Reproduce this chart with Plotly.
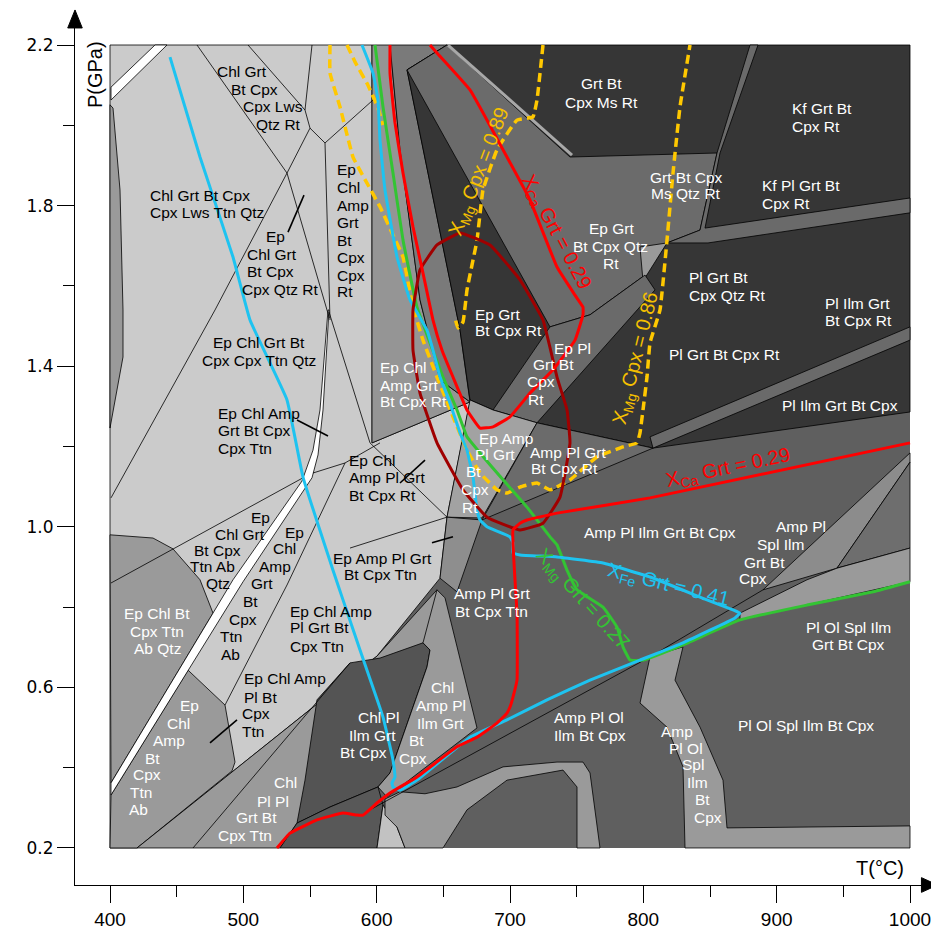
import plotly.graph_objects as go

# ---------------- axis data ----------------
T_TICKS = [400, 500, 600, 700, 800, 900, 1000]
T_MINOR = [450, 550, 650, 750, 850, 950]
P_TICKS = [0.2, 0.6, 1.0, 1.4, 1.8, 2.2]
P_MINOR = [0.4, 0.8, 1.2, 1.6, 2.0]
T_RANGE = [373.75, 1015.0]
P_RANGE = [0.1078, 2.2623]

# ---------------- field polygons (T degC, P GPa) ----------------
BOX = [(400, 0.2), (1000, 0.2), (1000, 2.2), (400, 2.2)]
LIGHT = [(400, 2.2), (596.5, 2.2), (596.5, 1.209), (670, 1.311), (652.75, 1.024), (647.5, 0.872),
         (600.25, 0.678), (420.25, 0.2), (400, 0.2)]
LEFT_STRIP = [(400, 2.051), (402.25, 2.043), (407.5, 1.839), (409.75, 1.540), (409.75, 1.423), (400, 1.246)]
EP_CHL_BT_AB = [(400, 0.980), (432.25, 0.972), (447.25, 0.945), (467.5, 0.868), (477.25, 0.785), (400.75, 0.362)]
EP_CHL_AMP_AB = [(400.75, 0.332), (458.5, 0.643), (486.25, 0.556), (493.75, 0.414), (491.5, 0.392),
                 (420.25, 0.2), (400, 0.2)]
CHL_PL_TTN = [(420.25, 0.2), (600.25, 0.678), (645.25, 0.843), (651.25, 0.818), (640, 0.693), (610, 0.387),
              (565, 0.302), (540.25, 0.262), (527.5, 0.2)]
CHL_PL_ILM = [(580, 0.661), (602.5, 0.673), (634.75, 0.711), (640, 0.693), (637.75, 0.651), (610, 0.387),
              (601, 0.352), (565, 0.302), (540.25, 0.262), (546.25, 0.369), (555.25, 0.569)]
CHL_AMP_PL_ILM = [(634.75, 0.711), (645.25, 0.843), (651.25, 0.823), (675.25, 0.499), (607.75, 0.327),
                  (601, 0.352), (610, 0.387), (637.75, 0.651), (640, 0.693)]
BOTTOM_DARK = [(527.5, 0.2), (540.25, 0.262), (565, 0.302), (601, 0.352), (604.75, 0.307), (600.25, 0.2)]
BOTTOM_LIGHT = [(604.75, 0.307), (615.25, 0.252), (621.25, 0.2), (600.25, 0.2)]
ARCH = [(606.25, 0.322), (617.5, 0.340), (636.25, 0.335), (660.25, 0.352), (694.75, 0.402), (735.25, 0.414),
        (754.75, 0.414), (760, 0.387), (767.5, 0.2), (750.25, 0.2), (750.25, 0.352), (739.75, 0.394),
        (697.75, 0.369), (667.75, 0.295), (649.75, 0.2), (621.25, 0.2), (615.25, 0.252), (606.25, 0.282)]
EP_CHL_AMP_RT = [(596.5, 2.2), (610, 2.2), (617.5, 1.939), (632.5, 1.565), (647.5, 1.366), (670, 1.311),
                 (596.5, 1.209)]
EP_CHL_AMP_RT2 = [(610, 2.2), (652.75, 2.2), (622.75, 2.138), (662.5, 1.490), (670, 1.311), (647.5, 1.366),
                  (632.5, 1.565), (617.5, 1.939)]
DARK_TOP = [(622.75, 2.138), (652.75, 2.2), (1000, 2.2), (1000, 1.286), (807.25, 1.196), (720.25, 1.259),
            (687.25, 1.291), (670, 1.316), (662.5, 1.490)]
EP_GRT_QTZ = [(622.75, 2.138), (652.75, 2.2), (745, 1.921), (855.25, 1.931), (842.5, 1.739), (817.75, 1.707),
              (801.25, 1.627), (760, 1.528), (730, 1.498)]
KF_STRIP = [(880, 2.2), (886, 2.2), (857.5, 1.931), (846.25, 1.744), (1000, 1.819), (1000, 1.782),
            (848.5, 1.707), (817.75, 1.707), (842.5, 1.739), (855.25, 1.931)]
SMALL_WEDGE = [(797.5, 1.697), (817.75, 1.707), (799.75, 1.612)]
EP_PL_STRIP = [(687.25, 1.291), (730, 1.498), (760, 1.528), (801.25, 1.627), (808.75, 1.590), (720.25, 1.259)]
PL_STRIP = [(805, 1.224), (1000, 1.498), (1000, 1.465), (807.25, 1.196)]
EP_AMP_PL_RT = [(670, 1.316), (687.25, 1.291), (720.25, 1.259), (679, 1.022), (652.75, 1.024)]
AMP_PL_RT = [(720.25, 1.259), (807.25, 1.196), (679, 1.017)]
SLIVER = [(652.75, 1.024), (679, 1.017), (660.25, 0.838), (647.5, 0.872)]
SPL_WEDGE = [(889.75, 0.843), (1000, 1.184), (1000, 1.161), (945.25, 0.897)]
SPL_WEDGE2 = [(945.25, 0.897), (1000, 1.161), (1000, 0.947)]
OL_BAND = [(872.5, 0.785), (922.75, 0.868), (945.25, 0.897), (1000, 0.947), (1000, 0.863), (872.5, 0.768)]
AMP_OL_STRIP = [(805, 0.676), (829.75, 0.701), (823.75, 0.618), (842.5, 0.501), (859.75, 0.369),
                (862.75, 0.250), (1000, 0.255), (1000, 0.2), (831.25, 0.2), (829.75, 0.402),
                (817.75, 0.501), (797.5, 0.561)]
WHITE_TOP = [(400.75, 2.095), (433.75, 2.2), (442.75, 2.2), (400.75, 2.063)]
WHITE_LOW = [(400.75, 0.362), (492.25, 0.868), (544, 1.114), (547, 1.141), (552.25, 1.191), (557.5, 1.291),
             (563.5, 1.540), (564.25, 1.540), (559.75, 1.291), (556, 1.179), (551.5, 1.122),
             (499.75, 0.863), (400.75, 0.332)]

# ---------------- extra boundary lines ----------------
LINE_A = [(465.25, 2.2), (532.75, 1.881), (564.5, 1.52)]
LINE_B = [(503.5, 2.2), (546.25, 2.038)]
LINE_C = [(551.5, 2.2), (546.25, 2.038), (550, 1.993)]
LINE_D = [(550, 1.993), (561.25, 1.956), (597.25, 2.063)]
LINE_E = [(561.25, 1.956), (565, 1.515)]
LINE_F = [(550, 1.993), (532.75, 1.881), (478.75, 1.540), (400.75, 1.072)]
LINE_H = [(564.25, 1.535), (595, 1.209)]
LINE_I = [(552.25, 1.134), (576.25, 1.159), (602.5, 1.209)]
LINE_J = [(400.75, 0.860), (447.25, 0.945), (544.75, 1.122)]
LINE_K = [(576.25, 1.159), (532.75, 0.855), (486.25, 0.556)]
LINE_N = [(595, 1.209), (652.75, 1.024)]
LINE_N2 = [(652.75, 1.024), (580, 0.947)]
LINE_2 = [(462.25, 0.2), (580, 0.661)]
LINE_X = [(595, 0.295), (805, 0.676)]
LINE_Y = [(805, 0.676), (889.75, 0.843)]
LEADERS = [
    [(533.5, 1.734), (545.5, 1.826)],
    [(540.25, 1.266), (563.5, 1.226)],
    [(475, 0.462), (495.25, 0.519)],
    [(617.5, 1.109), (636.25, 1.166)],
    [(641.5, 0.960), (657.25, 0.975)],
]
SLIVER_LINE = [(653.5, 2.2), (746.5, 1.926)]

# ---------------- isopleths ----------------
XCA_A = [(525.25, 0.2), (535, 0.237), (555.25, 0.270), (574.75, 0.287), (585.25, 0.282), (589.75, 0.282),
         (600.25, 0.312), (610, 0.337), (630.25, 0.377), (660.25, 0.452), (675.25, 0.476), (690.25, 0.511),
         (697.75, 0.536), (700, 0.551), (702.25, 0.576), (705.25, 0.618), (705.25, 0.785), (703.75, 0.868),
         (702.25, 0.992), (707.5, 1.009), (712.75, 1.017), (735.25, 1.034), (805, 1.072), (1000, 1.209)]
XCA_B = [(610, 2.2), (610, 2.130), (613.75, 2.006), (619.75, 1.881), (627.25, 1.747), (634.75, 1.632),
         (642.25, 1.515), (649, 1.440), (657.25, 1.373), (667.75, 1.291), (677.5, 1.246), (687.25, 1.249),
         (700, 1.274), (715, 1.333), (732.25, 1.391), (748.75, 1.465), (754.75, 1.528), (754.75, 1.547),
         (748.75, 1.577), (735.25, 1.647), (715, 1.814), (694.75, 1.939), (670, 2.088), (645.25, 2.180),
         (640, 2.2)]
ELLIPSE = [(662.5, 1.732), (685, 1.702), (707.5, 1.615), (724.75, 1.515), (735.25, 1.373), (742.75, 1.291),
           (745, 1.209), (737.5, 1.074), (724.75, 1.009), (707.5, 0.992), (682.75, 1.024), (664.75, 1.092),
           (645.25, 1.209), (632.5, 1.333), (627.25, 1.440), (627.25, 1.540), (632.5, 1.640),
           (645.25, 1.702), (662.5, 1.732)]
XMG_CPX_089 = [(724.75, 2.2), (720.25, 2.063), (717.25, 2.021), (705.25, 2.013), (690.25, 1.939),
               (679.75, 1.839), (675.25, 1.714), (667.75, 1.590), (664.75, 1.510), (661, 1.495),
               (658.75, 1.520)]
XMG_CPX_086 = [(565, 2.2), (565, 2.130), (572.5, 2.046), (582.25, 1.921), (592.75, 1.856), (602.5, 1.797),
               (612.25, 1.727), (619.75, 1.672), (627.25, 1.547), (634.75, 1.465), (645.25, 1.373),
               (657.25, 1.274), (667.75, 1.191), (677.5, 1.134), (690.25, 1.092), (697.75, 1.084),
               (707.5, 1.099), (720.25, 1.109), (730, 1.092), (745, 1.117), (765.25, 1.174), (784.75, 1.199),
               (795.25, 1.209), (797.5, 1.234), (799.75, 1.291), (802.75, 1.373), (805, 1.458),
               (812.5, 1.540), (817.75, 1.714), (822.25, 1.881), (827.5, 2.046), (835, 2.2)]
XMG_CPX_B = [(577.75, 2.2), (583.75, 2.158), (593.5, 2.100), (601, 2.043), (604.75, 2.001)]
XFE_GRT = [(589, 2.2), (597.25, 2.130), (601, 2.063), (602.5, 1.963), (606.25, 1.839), (615.25, 1.672),
           (625, 1.565), (637.75, 1.490), (642.25, 1.440), (647.5, 1.373), (655, 1.308), (662.5, 1.234),
           (667.75, 1.191), (672.25, 1.124), (675.25, 1.042), (677.5, 1.017), (682.75, 1.000), (700, 0.975),
           (702.25, 0.960), (702.25, 0.935), (707.5, 0.930), (735.25, 0.925), (769.75, 0.910), (805, 0.875),
           (847.75, 0.818), (867.25, 0.793), (872.5, 0.785), (868.75, 0.773), (829.75, 0.711),
           (797.5, 0.668), (760, 0.618), (727.75, 0.569), (697.75, 0.519), (670, 0.476), (630.25, 0.369),
           (617.5, 0.344), (612.25, 0.352), (611.5, 0.362), (613.75, 0.377), (612.25, 0.419),
           (604.75, 0.526), (587.5, 0.693), (574.75, 0.818), (567.25, 0.892), (544.75, 1.124),
           (532.75, 1.316), (505, 1.515), (492.25, 1.672), (467.5, 1.921), (445, 2.170)]
XMG_GRT = [(598.75, 2.2), (604.75, 2.046), (612.25, 1.881), (619.75, 1.714), (630.25, 1.547), (640, 1.458),
           (649.75, 1.373), (660.25, 1.291), (667.75, 1.224), (677.5, 1.184), (694.75, 1.117),
           (712.75, 1.049), (730, 0.975), (735.25, 0.955), (742.75, 0.892), (750.25, 0.843),
           (769.75, 0.800), (780.25, 0.750), (784.75, 0.701), (790, 0.668), (799.75, 0.668),
           (829.75, 0.706), (872.5, 0.768), (922.75, 0.805), (972.25, 0.838), (1000, 0.863)]

# ---------------- field labels (T, P, text) ----------------
BLACK_CENTER = [
    (499, 2.133, "Chl Grt"), (508, 2.090, "Bt Cpx"), (522.3, 2.046, "Cpx Lws"), (526, 2.003, "Qtz Rt"),
    (523.8, 1.722, "Ep"), (521.5, 1.679, "Chl Grt"), (520, 1.635, "Bt Cpx"), (527.5, 1.592, "Cpx Qtz Rt"),
    (511.75, 1.460, "Ep Chl Grt Bt"), (511.75, 1.415, "Cpx Cpx Ttn Qtz"),
    (512.5, 1.024, "Ep"), (497.5, 0.982, "Chl Grt"), (480.25, 0.940, "Bt Cpx"), (476.5, 0.900, "Ttn Ab"),
    (481, 0.858, "Qtz"),
    (538, 0.987, "Ep"), (530.5, 0.945, "Chl"), (523.75, 0.900, "Amp"), (514, 0.858, "Grt"),
    (505, 0.813, "Bt"), (499.75, 0.770, "Cpx"), (490.75, 0.726, "Ttn"), (490, 0.683, "Ab"),
    (604, 0.922, "Ep Amp Pl Grt"), (603, 0.880, "Bt Cpx Ttn"),
]
BLACK_LEFT = [
    (428.5, 1.826, "Chl Grt Bt Cpx"), (428.5, 1.782, "Cpx Lws Ttn Qtz"),
    (568.75, 1.889, "Ep"), (568.75, 1.846, "Chl"), (568.75, 1.801, "Amp"), (568.75, 1.759, "Grt"),
    (568.75, 1.714, "Bt"), (568.75, 1.672, "Cpx"), (568.75, 1.627, "Cpx"), (568.75, 1.585, "Rt"),
    (479.5, 1.281, "Ep Chl Amp"), (479.5, 1.239, "Grt Bt Cpx"), (479.5, 1.196, "Cpx Ttn"),
    (533.5, 0.790, "Ep Chl Amp"), (533.5, 0.748, "Pl Grt Bt"), (533.5, 0.703, "Cpx Ttn"),
    (499, 0.621, "Ep Chl Amp"), (499, 0.576, "Pl Bt"), (497.5, 0.534, "Cpx"), (497.5, 0.489, "Ttn"),
    (577.75, 1.166, "Ep Chl"), (577.75, 1.122, "Amp Pl Grt"), (577.75, 1.079, "Bt Cpx Rt"),
]
WHITE_CENTER = [
    (435.25, 0.785, "Ep Chl Bt"), (435.25, 0.740, "Cpx Ttn"), (435.25, 0.698, "Ab Qtz"),
    (459.25, 0.554, "Ep"), (451, 0.511, "Chl"), (444.25, 0.467, "Amp"), (431.5, 0.424, "Bt"),
    (427.75, 0.382, "Cpx"), (423.25, 0.339, "Ttn"), (421, 0.295, "Ab"),
    (531.25, 0.362, "Chl"), (522.25, 0.317, "Pl Pl"), (509.5, 0.275, "Grt Bt"), (501.25, 0.230, "Cpx Ttn"),
    (601, 0.524, "Chl Pl"), (596.5, 0.481, "Ilm Grt"), (589.75, 0.437, "Bt Cpx"),
    (649, 0.599, "Chl"), (648.25, 0.554, "Amp Pl"), (647.5, 0.511, "Ilm Grt"), (629.5, 0.467, "Bt"),
    (627.25, 0.424, "Cpx"),
    (686.5, 0.835, "Amp Pl Grt"), (685.75, 0.790, "Bt Cpx Ttn"),
    (759.25, 0.526, "Amp Pl Ol"), (760, 0.481, "Ilm Bt Cpx"),
    (825.25, 0.491, "Amp"), (832, 0.449, "Pl Ol"), (837.25, 0.407, "Spl"), (840.25, 0.362, "Ilm"),
    (844, 0.320, "Bt"), (848.5, 0.275, "Cpx"),
    (922, 0.504, "Pl Ol Spl Ilm Bt Cpx"),
    (953.5, 0.750, "Pl Ol Spl Ilm"), (953.5, 0.708, "Grt Bt Cpx"),
    (918.25, 1.000, "Amp Pl"), (902.5, 0.957, "Spl Ilm"), (890.5, 0.912, "Grt Bt"), (882.25, 0.870, "Cpx"),
    (812.5, 0.985, "Amp Pl Ilm Grt Bt Cpx"),
    (743.5, 1.186, "Amp Pl Grt"), (740.5, 1.146, "Bt Cpx Rt"),
    (697, 1.221, "Ep Amp"), (688.75, 1.179, "Pl Grt"), (672.25, 1.137, "Bt"), (673.75, 1.092, "Cpx"),
    (670, 1.049, "Rt"),
    (746.5, 1.445, "Ep Pl"), (732.25, 1.405, "Grt Bt"), (723.25, 1.361, "Cpx"), (719.5, 1.318, "Rt"),
    (775.75, 1.742, "Ep Grt"), (775, 1.697, "Bt Cpx Qtz"), (775.75, 1.655, "Rt"),
    (768.25, 2.105, "Grt Bt"), (768.25, 2.058, "Cpx Ms Rt"),
    (832, 1.871, "Grt Bt Cpx"), (832, 1.829, "Ms Qtz Rt"),
]
WHITE_LEFT = [
    (601, 1.398, "Ep Chl"), (601, 1.353, "Amp Grt"), (601, 1.311, "Bt Cpx Rt"),
    (672.25, 1.530, "Ep Grt"), (672.25, 1.488, "Bt Cpx Rt"),
    (910, 2.041, "Kf Grt Bt"), (910, 1.996, "Cpx Rt"),
    (887.5, 1.849, "Kf Pl Grt Bt"), (887.5, 1.806, "Cpx Rt"),
    (832.75, 1.622, "Pl Grt Bt"), (832.75, 1.577, "Cpx Qtz Rt"),
    (934.75, 1.557, "Pl Ilm Grt"), (934.75, 1.515, "Bt Cpx Rt"),
    (817.75, 1.428, "Pl Grt Bt Cpx Rt"),
    (902.5, 1.301, "Pl Ilm Grt Bt Cpx"),
]
# isopleth labels: (T, P, text, angle)
ISO_LABELS_YELLOW = [(677.5, 1.884, "X<sub>Mg</sub> Cpx = 0.89", -69), (794.5, 1.420, "X<sub>Mg</sub> Cpx = 0.86", -76)]
ISO_LABELS_RED = [(734.5, 1.734, "X<sub>Ca</sub> Grt = 0.29", 62), (863.5, 1.146, "X<sub>Ca</sub> Grt = 0.29", -12)]
ISO_LABELS_CYAN = [(818.5, 0.855, "X<sub>Fe</sub> Grt = 0.41", 14)]
ISO_LABELS_GREEN = [(754, 0.818, "X<sub>Mg</sub> Grt = 0.27", 48)]

fig = go.Figure()


def xs_ys(pts, close=False):
    xs = [p[0] for p in pts]
    ys = [p[1] for p in pts]
    if close:
        xs.append(pts[0][0])
        ys.append(pts[0][1])
    return xs, ys


def poly(pts, fill, lw=0.8):
    xs, ys = xs_ys(pts, True)
    fig.add_trace(go.Scatter(x=xs, y=ys, mode="lines", fill="toself", fillcolor=fill,
                             line=dict(color="black", width=lw), hoverinfo="skip", showlegend=False))


def path(pts, color, width, dash=None):
    xs, ys = xs_ys(pts)
    fig.add_trace(go.Scatter(x=xs, y=ys, mode="lines",
                             line=dict(color=color, width=width, dash=dash, shape="spline", smoothing=0.3),
                             hoverinfo="skip", showlegend=False))


def seg(pts, color="black", width=0.8):
    xs, ys = xs_ys(pts)
    fig.add_trace(go.Scatter(x=xs, y=ys, mode="lines", line=dict(color=color, width=width),
                             hoverinfo="skip", showlegend=False))


LIGHT_C = "#cbcbcb"
MED_C = "#9a9a9a"
DARK_C = "#363636"
MID_C = "#6b6b6b"

poly(BOX, "#5f5f5f", 0)
poly(LIGHT, LIGHT_C)
poly(LEFT_STRIP, MED_C)
poly(EP_CHL_BT_AB, MED_C)
poly(EP_CHL_AMP_AB, MED_C)
poly(CHL_PL_TTN, MED_C)
poly(CHL_PL_ILM, "#545454")
poly(CHL_AMP_PL_ILM, MED_C)
poly(BOTTOM_DARK, "#585858")
poly(BOTTOM_LIGHT, "#c2c2c2")
poly(ARCH, MED_C)
poly(EP_CHL_AMP_RT, "#959595")
poly(EP_CHL_AMP_RT2, "#7a7a7a")
poly(DARK_TOP, DARK_C)
poly(EP_GRT_QTZ, MID_C)
poly(KF_STRIP, "#6a6a6a")
poly(SMALL_WEDGE, MED_C)
poly(EP_PL_STRIP, "#6a6a6a")
poly(PL_STRIP, "#6a6a6a")
poly(EP_AMP_PL_RT, "#a2a2a2")
poly(AMP_PL_RT, MID_C)
poly(SLIVER, "#8e8e8e")
poly(SPL_WEDGE, "#8c8c8c")
poly(SPL_WEDGE2, "#6e6e6e")
poly(OL_BAND, MED_C)
poly(AMP_OL_STRIP, MED_C)
poly(WHITE_TOP, "#ffffff")
poly(WHITE_LOW, "#ffffff")

seg(SLIVER_LINE, "#a8a8a8", 3)
for ln in [LINE_A, LINE_B, LINE_C, LINE_D, LINE_E, LINE_F, LINE_H, LINE_I, LINE_J, LINE_K,
           LINE_N, LINE_N2, LINE_2, LINE_X, LINE_Y]:
    seg(ln)
for ln in LEADERS:
    seg(ln, "black", 1.6)

YEL = "#ffc800"
RED = "#ff0000"
CYAN = "#1ec3f0"
GREEN = "#33c433"
path(XMG_CPX_086, YEL, 3.5, "9px,5px")
path(XMG_CPX_089, YEL, 3.5, "9px,5px")
path(XMG_CPX_B, YEL, 3.5, "9px,5px")
path(XMG_GRT, GREEN, 3)
path(XFE_GRT, CYAN, 3)
path(ELLIPSE, "#a00000", 3)
path(XCA_B, RED, 3)
path(XCA_A, RED, 3)

LABEL_FONT = "Liberation Sans, Arial, sans-serif"
annotations = []
for lst, col, anchor in [(BLACK_CENTER, "black", "center"), (BLACK_LEFT, "black", "left"),
                         (WHITE_CENTER, "white", "center"), (WHITE_LEFT, "white", "left")]:
    for t, p, txt in lst:
        annotations.append(dict(x=t, y=p, text=txt, showarrow=False, xanchor=anchor, yanchor="middle",
                                font=dict(family=LABEL_FONT, size=15.5, color=col)))
for lst, col in [(ISO_LABELS_YELLOW, "#f5c000"), (ISO_LABELS_RED, RED), (ISO_LABELS_CYAN, CYAN),
                 (ISO_LABELS_GREEN, GREEN)]:
    for t, p, txt, ang in lst:
        annotations.append(dict(x=t, y=p, text=txt, showarrow=False, textangle=ang, xanchor="center",
                                yanchor="middle", font=dict(family=LABEL_FONT, size=20, color=col)))

# axis titles
annotations.append(dict(x=977.5, y=0.150, text="T(°C)", showarrow=False, xanchor="center", yanchor="middle",
                        font=dict(family="Liberation Sans Narrow, Liberation Sans, Arial", size=20,
                                  color="black")))
annotations.append(dict(x=388.75, y=2.125, text="P(GPa)", showarrow=False, textangle=-90, xanchor="center",
                        yanchor="middle",
                        font=dict(family="Liberation Sans Narrow, Liberation Sans, Arial", size=20,
                                  color="black")))

# axis arrowheads (paper coordinates, drawn as shapes)
shapes = [
    dict(type="path", xref="paper", yref="paper", path="M 0.9900,0.0085 L 1.0088,0 L 0.9900,-0.0085 Z",
         fillcolor="black", line=dict(color="black", width=1), layer="above"),
    dict(type="path", xref="paper", yref="paper", path="M -0.0085,0.9908 L 0,1.0116 L 0.0085,0.9908 Z",
         fillcolor="black", line=dict(color="black", width=1), layer="above"),
]

# the page body adds an 8 px margin, so the figure is 8 px smaller and its margins compensate
fig.update_layout(
    width=931, height=927,
    margin=dict(l=67, r=9, t=12, b=50),
    paper_bgcolor="white", plot_bgcolor="white",
    showlegend=False,
    annotations=annotations,
    shapes=shapes,
    xaxis=dict(range=T_RANGE, tickmode="array", tickvals=T_TICKS, ticktext=[str(v) for v in T_TICKS],
               ticks="outside", ticklen=17, tickwidth=1, tickcolor="black", automargin=False,
               minor=dict(tickmode="array", tickvals=T_MINOR, ticks="outside", ticklen=11, tickcolor="black",
                          tickwidth=1),
               showline=True, linecolor="black", linewidth=1.2, showgrid=False, zeroline=False,
               tickfont=dict(family="Liberation Sans Narrow, Liberation Sans, Arial", size=19, color="black"),
               fixedrange=True),
    yaxis=dict(range=P_RANGE, tickmode="array", tickvals=P_TICKS, ticktext=[f"{v:.1f}" for v in P_TICKS],
               ticks="outside", ticklen=17, tickwidth=1, tickcolor="black", automargin=False,
               minor=dict(tickmode="array", tickvals=P_MINOR, ticks="outside", ticklen=11, tickcolor="black",
                          tickwidth=1),
               showline=True, linecolor="black", linewidth=1.2, showgrid=False, zeroline=False,
               tickfont=dict(family="DejaVu Sans, Verdana", size=17, color="black"),
               fixedrange=True),
)

fig.write_html("out.html")
